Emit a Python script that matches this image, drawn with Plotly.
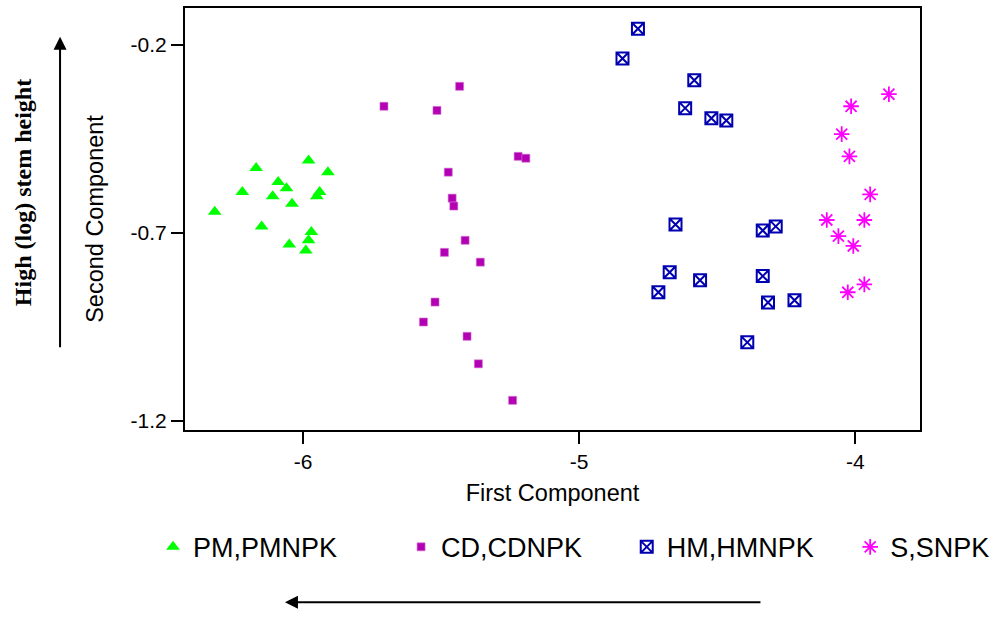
import plotly.graph_objects as go

# ---- data ----
pm_x = [-5.98, -5.91, -6.17, -6.09, -6.06, -6.22, -6.11, -5.94, -5.95, -6.04, -6.32, -6.15, -5.97, -5.98, -6.05, -5.99]
pm_y = [-0.508, -0.539, -0.528, -0.565, -0.582, -0.592, -0.603, -0.592, -0.603, -0.623, -0.644, -0.683, -0.698, -0.720, -0.731, -0.747]

cd_x = [-5.433, -5.707, -5.515, -5.221, -5.193, -5.474, -5.460, -5.454, -5.413, -5.488, -5.358, -5.522, -5.564, -5.406, -5.365, -5.241]
cd_y = [-0.311, -0.364, -0.375, -0.497, -0.502, -0.539, -0.608, -0.629, -0.720, -0.752, -0.778, -0.884, -0.937, -0.975, -1.048, -1.145]

hm_x = [-4.787, -4.843, -4.583, -4.616, -4.521, -4.467, -4.651, -4.335, -4.288, -4.672, -4.562, -4.713, -4.335, -4.316, -4.220, -4.391]
hm_y = [-0.158, -0.237, -0.295, -0.369, -0.396, -0.402, -0.678, -0.694, -0.683, -0.805, -0.826, -0.858, -0.815, -0.885, -0.879, -0.991]

s_x = [-3.878, -4.015, -4.049, -4.021, -3.946, -4.103, -3.967, -4.061, -4.007, -3.967, -4.027]
s_y = [-0.332, -0.364, -0.438, -0.497, -0.598, -0.666, -0.666, -0.709, -0.735, -0.837, -0.858]

series_names = ["PM,PMNPK", "CD,CDNPK", "HM,HMNPK", "S,SNPK"]
x_ticks = [-6, -5, -4]
y_ticks = [-1.2, -0.7, -0.2]

FONT = "Liberation Sans, Arial, sans-serif"

fig = go.Figure()
fig.add_trace(go.Scatter(x=pm_x, y=pm_y, mode="markers", name=series_names[0], legend="legend",
                         marker=dict(symbol="triangle-up", size=12, color="#00FF00")))
fig.add_trace(go.Scatter(x=cd_x, y=cd_y, mode="markers", name=series_names[1], legend="legend2",
                         marker=dict(symbol="square", size=8, color="#B400B4",
                                     line=dict(color="#D070D0", width=0.6))))
fig.add_trace(go.Scatter(x=hm_x, y=hm_y, mode="markers", name=series_names[2], legend="legend3",
                         marker=dict(symbol="square-x-open", size=12, color="#0000B0",
                                     line=dict(color="#0000B0", width=2))))
fig.add_trace(go.Scatter(x=s_x, y=s_y, mode="markers", name=series_names[3], legend="legend4",
                         marker=dict(symbol="asterisk-open", size=13, color="#FF00FF",
                                     line=dict(color="#FF00FF", width=1.8))))

leg_common = dict(font=dict(family=FONT, size=27, color="black"), bgcolor="rgba(0,0,0,0)",
                  borderwidth=0, y=-0.278, yanchor="middle", xanchor="left")

axis_common = dict(showline=True, linecolor="black", linewidth=2, mirror=True,
                   ticks="outside", ticklen=12, tickwidth=2, tickcolor="black",
                   showgrid=False, zeroline=False,
                   tickfont=dict(family=FONT, size=21, color="black"))

fig.update_layout(
    width=1002, height=617,
    showlegend=True,
    margin=dict(l=185, r=82, t=6, b=187),
    paper_bgcolor="white", plot_bgcolor="white",
    xaxis=dict(range=[-6.4276, -3.7654], tickvals=x_ticks, ticktext=[str(v) for v in x_ticks],
               title=dict(text="First Component", font=dict(family=FONT, size=23.5, color="black"),
                          standoff=12),
               **axis_common),
    yaxis=dict(range=[-1.2238, -0.103], tickvals=y_ticks, ticktext=[str(v) for v in y_ticks],
               title=dict(text="Second Component", font=dict(family=FONT, size=23.5, color="black"),
                          standoff=20),
               **axis_common),
    legend=dict(x=-0.0435, **leg_common),
    legend2=dict(x=0.294, **leg_common),
    legend3=dict(x=0.601, **leg_common),
    legend4=dict(x=0.905, **leg_common),
)

# side label and arrows
fig.add_annotation(xref="paper", yref="paper", x=-0.22, y=0.562, text="<b>High (log) stem height</b>",
                   textangle=-90, showarrow=False, xanchor="center", yanchor="middle",
                   font=dict(family="Liberation Serif, Times New Roman, serif", size=24, color="black"))
fig.add_annotation(xref="paper", yref="paper", x=-0.170, y=0.9316, text="", showarrow=True,
                   ax=0, ay=312, arrowhead=2, arrowsize=1.3, arrowwidth=2, arrowcolor="black")
fig.add_annotation(xref="paper", yref="paper", x=0.136, y=-0.408, text="", showarrow=True,
                   ax=477, ay=0, arrowhead=2, arrowsize=1.3, arrowwidth=2, arrowcolor="black")

fig.write_html("out.html", config={"displayModeBar": False},
               post_script="document.body.style.margin='0';")
